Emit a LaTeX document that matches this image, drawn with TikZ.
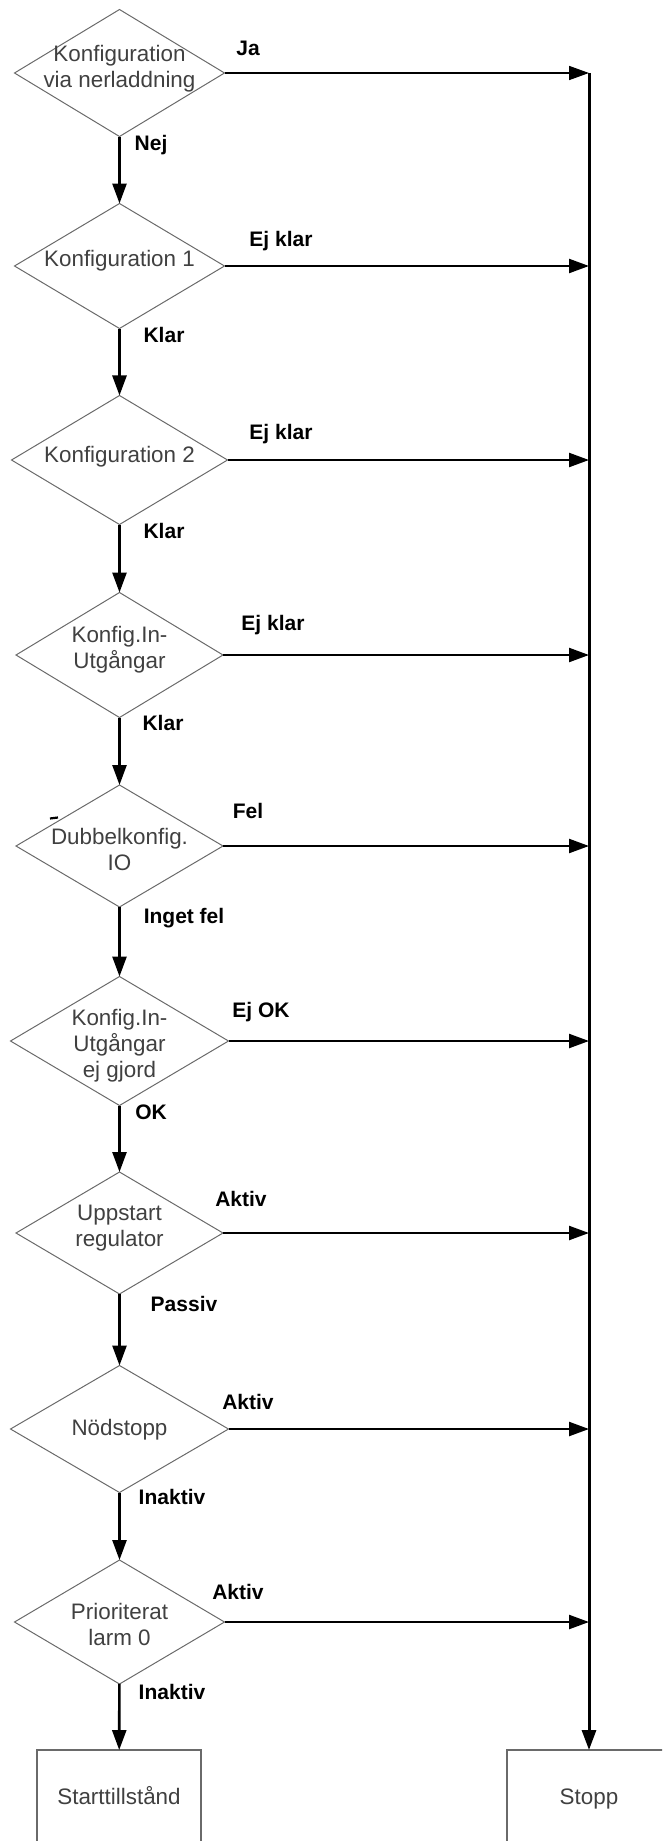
\documentclass[tikz,border=0pt]{standalone}
\usepackage{fontspec}
\setmainfont{Liberation Sans}
\usetikzlibrary{shapes.geometric,arrows.meta}
\definecolor{outline}{HTML}{6A6A6A}
\definecolor{txt}{HTML}{404040}
\begin{document}
\begin{tikzpicture}[x=1pt,y=-1pt,
  decision/.style={shape=diamond, draw=outline, line width=1pt, inner sep=0pt, outer sep=0pt},
  dtext/.style={align=center, text=txt, font=\fontsize{22.4}{26}\selectfont, inner sep=0pt},
  state/.style={draw=outline, line width=1.4pt, minimum width=164pt, inner sep=0pt, outer sep=0pt,
    text=txt, font=\fontsize{22.4}{26}\selectfont, text height=54pt, text depth=130pt, anchor=north},
  tip/.style={-{Triangle[length=20pt,width=14pt]}},
  flow/.style={tip, line width=2.6pt},
  branch/.style={tip, line width=2.3pt},
  tag/.style={font=\bfseries\fontsize{21}{24}\selectfont, inner sep=0pt}
]
\useasboundingbox (0,0) rectangle (662,1841);
\clip (0,0) rectangle (662,1841);

% decisions down the left column
\node[decision, minimum width=210pt, minimum height=127pt,
  label={[dtext,yshift=4.5pt]center:{Konfiguration\\via nerladdning}}] (d1) at (119.5,73) {};
\node[decision, minimum width=210pt, minimum height=125pt,
  label={[dtext,yshift=5pt]center:{Konfiguration 1}}] (d2) at (119.5,266) {};
\node[decision, minimum width=216pt, minimum height=129pt,
  label={[dtext,yshift=3pt]center:{Konfiguration 2}}] (d3) at (119.5,460) {};
\node[decision, minimum width=207pt, minimum height=125pt,
  label={[dtext,yshift=5pt]center:{Konfig.In-\\Utgångar}}] (d4) at (119.5,655) {};
\node[decision, minimum width=207pt, minimum height=122pt,
  label={[dtext,yshift=-3pt]center:{Dubbelkonfig.\\IO}}] (d5) at (119.5,846) {};
\node[decision, minimum width=218pt, minimum height=129pt,
  label={[dtext,yshift=-5pt]center:{Konfig.In-\\Utgångar\\ej gjord}}] (d6) at (119.5,1041) {};
\node[decision, minimum width=207pt, minimum height=122pt,
  label={[dtext,yshift=5pt]center:{Uppstart\\regulator}}] (d7) at (119.5,1233) {};
\node[decision, minimum width=218pt, minimum height=127pt,
  label={[dtext,yshift=-1pt]center:{Nödstopp}}] (d8) at (119.5,1429) {};
\node[decision, minimum width=210pt, minimum height=124pt,
  label={[dtext,yshift=-2pt]center:{Prioriterat\\larm 0}}] (d9) at (119.5,1622) {};

% end states
\node[state] (start) at (119,1750) {Starttillstånd};
\node[state] (stopp) at (589,1750) {Stopp};

% main flow
\draw[flow] (d1) -- (d2);
\draw[flow] (d2) -- (d3);
\draw[flow] (d3) -- (d4);
\draw[flow] (d4) -- (d5);
\draw[flow] (d5) -- (d6);
\draw[flow] (d6) -- (d7);
\draw[flow] (d7) -- (d8);
\draw[flow] (d8) -- (d9);
\draw[flow] (d9) -- (start);

% branches to the stop rail
\coordinate (rail) at (d1.east -| stopp.north);
\draw[tip, line width=1.6pt] (d1.east) -- (rail);
\foreach \d in {d2,d3,d4,d5,d6,d7,d8,d9}
  \draw[branch] (\d.east) -- (\d.east -| stopp.north);
\draw[tip, line width=3pt] (rail) -- (stopp.north);

% small stray mark beside the IO check
\draw[line width=2.2pt] (50,818.5) -- (58,817.5);

% branch labels
\node[tag] (ja) at (248,48) {Ja};
\node[tag] (nej) at (151,145) {Nej};
\node[tag] (e2) at (281,241) {Ej klar};
\node[tag] (k2) at (164,335) {Klar};
\node[tag] (e3) at (281,434) {Ej klar};
\node[tag] (k3) at (164,531) {Klar};
\node[tag] (e4) at (273,625) {Ej klar};
\node[tag] (k4) at (163,723) {Klar};
\node[tag] (e5) at (248,811) {Fel};
\node[tag] (k5) at (184,918) {Inget fel};
\node[tag] (e6) at (261,1012) {Ej OK};
\node[tag] (k6) at (151,1112) {OK};
\node[tag] (e7) at (241,1199) {Aktiv};
\node[tag] (k7) at (184,1304) {Passiv};
\node[tag] (e8) at (248,1402) {Aktiv};
\node[tag] (k8) at (172,1497) {Inaktiv};
\node[tag] (e9) at (238,1592) {Aktiv};
\node[tag] (k9) at (172,1692) {Inaktiv};
\end{tikzpicture}
\end{document}
